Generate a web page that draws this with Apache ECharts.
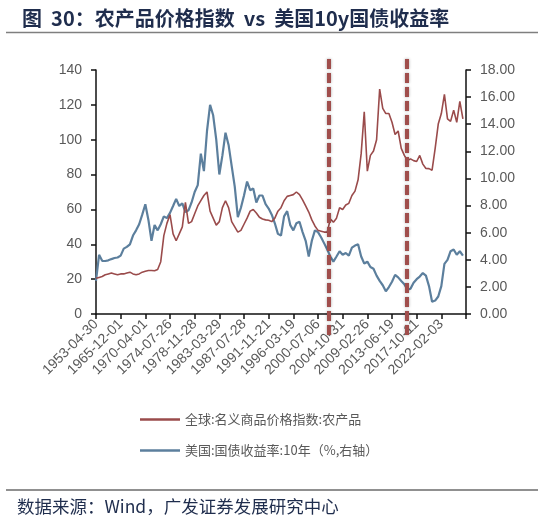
<!DOCTYPE html>
<html><head><meta charset="utf-8">
<script src="https://cdn.jsdelivr.net/npm/echarts@6/dist/echarts.min.js"></script>
<style>html,body{margin:0;padding:0;background:#fff}#c{width:544px;height:521px}</style>
</head><body><div id="c"></div>
<script>
var tickLabels = ['1953-04-30','1965-12-01','1970-04-01','1974-07-26','1978-11-28','1983-03-29','1987-07-28','1991-11-21','1996-03-19','2000-07-06','2004-10-31','2009-02-26','2013-06-19','2017-10-11','2022-02-03'];
var stepsPerLabel = 8;
var totalSlots = 121;
var agri = [20.5,21,21.5,22.5,23,23.5,23,22.5,23,23,23.5,24,23,22.5,23,24,24.5,25,25,24.8,
25.5,30,45,52,57,46,42,46,50,64,52,53,57.5,62,65,68,70,59,55,51,
53,61,65,61,53,50,47,48,51.5,55,59,60,58,55.5,54.5,54,53.8,53,55,59,
61,65,67.5,68,68.5,70,68.5,65.5,62,58.5,54,50.5,48,47.5,47,47,54.5,52.7,55,61,
60,62.5,63.5,68,70.5,77,92,116,82,91,93.5,100,129,118,115,115,110,103,105,95,
91,88,89,88,87.5,91,86,83.5,83.4,82.5,95,109,115,126,112,110.5,117,110,122,112];
var bond = [2.44,4.37,3.92,3.91,3.96,4.05,4.13,4.17,4.31,4.82,4.95,5.14,5.79,6.17,6.62,7.33,8.10,6.94,5.40,6.56,
6.17,6.62,7.20,7.07,7.46,7.97,8.49,7.97,8.16,7.52,7.65,8.23,9.00,9.51,11.83,10.54,13.50,15.43,14.66,12.86,
10.29,11.70,13.37,12.47,10.93,9.39,7.14,7.84,8.74,9.77,9.13,9.26,8.23,8.74,8.74,8.10,7.78,7.33,6.69,5.91,
5.79,7.20,7.59,6.56,6.17,6.69,6.81,6.04,5.40,4.24,5.40,6.17,6.04,5.66,5.21,4.76,4.24,3.86,4.24,4.63,
4.37,4.50,4.31,4.89,5.05,5.14,4.24,3.73,3.86,3.47,3.34,2.83,2.44,2.12,1.67,1.99,2.38,2.89,2.70,2.44,
2.19,1.80,1.86,2.31,2.57,2.76,3.02,2.83,2.06,0.90,0.99,1.29,2.06,3.70,3.99,4.63,4.76,4.37,4.63,4.31];
var markerSlots = [75.6, 100.8];
var seriesNames = ['全球:名义商品价格指数:农产品','美国:国债收益率:10年（%,右轴）'];

var cats = [];
for (var i = 0; i < totalSlots; i++) {
  cats.push(i % stepsPerLabel === 0 ? (tickLabels[i / stepsPerLabel] || '') : '');
}
var FONT = 'Liberation Sans, Noto Sans CJK SC, sans-serif';
var CJK = 'Noto Sans CJK SC, Liberation Sans, sans-serif';
var chart = echarts.init(document.getElementById('c'), null, {renderer: 'canvas'});
chart.setOption({
  animation: false,
  backgroundColor: '#fff',
  title: {
    text: '图  30：农产品价格指数  vs  美国10y国债收益率',
    left: 17, top: 3,
    textStyle: {fontFamily: CJK, fontSize: 20, fontWeight: 'bold', color: '#1F2D4D'}
  },
  legend: {
    orient: 'vertical', left: 140, top: 413, padding: 0, itemWidth: 40, itemHeight: 2.5, itemGap: 18,
    icon: 'rect',
    textStyle: {fontFamily: CJK, fontSize: 13, color: '#595959'},
    data: [
      {name: seriesNames[0], itemStyle: {color: '#9A4B4B'}},
      {name: seriesNames[1], itemStyle: {color: '#5C7F9D'}}
    ]
  },
  grid: [
    {left: 96, right: 78, top: 70, bottom: 207, containLabel: false},
    {left: 96, right: 78, top: 55, height: 280, containLabel: false}
  ],
  xAxis: [
    {type: 'category', gridIndex: 0, data: cats, boundaryGap: false,
     axisLine: {lineStyle: {color: '#111', width: 1.5}},
     axisTick: {interval: stepsPerLabel - 1, length: 5, lineStyle: {color: '#111', width: 1.5}},
     axisLabel: {interval: stepsPerLabel - 1, rotate: 45, fontFamily: FONT, fontSize: 14, color: '#595959', margin: 8}},
    {type: 'value', gridIndex: 1, min: 0, max: totalSlots - 1, show: false}
  ],
  yAxis: [
    {type: 'value', gridIndex: 0, min: 0, max: 140, interval: 20, position: 'left',
     axisLine: {show: true, lineStyle: {color: '#111', width: 1.5}},
     axisTick: {show: true, length: 5, lineStyle: {color: '#111', width: 1.5}},
     splitLine: {show: false},
     axisLabel: {fontFamily: FONT, fontSize: 14, color: '#595959', margin: 14}},
    {type: 'value', gridIndex: 0, min: 0, max: 18, interval: 2, position: 'right',
     axisLine: {show: true, lineStyle: {color: '#111', width: 1.5}},
     axisTick: {show: true, length: 5, lineStyle: {color: '#111', width: 1.5}},
     splitLine: {show: false},
     axisLabel: {fontFamily: FONT, fontSize: 14, color: '#595959', margin: 14,
       formatter: function (v) { return v.toFixed(2); }}},
    {type: 'value', gridIndex: 1, min: 0, max: 1, show: false}
  ],
  series: [
    {name: seriesNames[0], type: 'line', xAxisIndex: 0, yAxisIndex: 0, data: agri,
     symbol: 'none', lineStyle: {color: '#9A4B4B', width: 1.6}, itemStyle: {color: '#9A4B4B'}, z: 3},
    {name: seriesNames[1], type: 'line', xAxisIndex: 0, yAxisIndex: 1, data: bond,
     symbol: 'none', lineStyle: {color: '#5C7F9D', width: 2.2}, itemStyle: {color: '#5C7F9D'}, z: 2},
    {type: 'line', xAxisIndex: 1, yAxisIndex: 2, data: [[0, -1], [totalSlots - 1, -1]],
     symbol: 'none', lineStyle: {opacity: 0}, silent: true, z: 5,
     markLine: {symbol: ['none', 'none'], silent: true, label: {show: false},
       lineStyle: {color: '#A04E4C', width: 4, type: [10, 4], shadowBlur: 3, shadowColor: 'rgba(0,0,0,0.35)'},
       data: markerSlots.map(function (s) { return {xAxis: s}; })}}
  ],
  graphic: [
    {type: 'line', shape: {x1: 6, y1: 32.5, x2: 538, y2: 32.5}, style: {stroke: '#7f7f7f', lineWidth: 1.5}},
    {type: 'line', shape: {x1: 6, y1: 490, x2: 538, y2: 490}, style: {stroke: '#222', lineWidth: 1.2}},
    {type: 'text', left: 17, top: 498, style: {text: '数据来源：Wind，广发证券发展研究中心', fontFamily: CJK, fontSize: 17.5, fill: '#1F2D4D'}}
  ]
});
</script></body></html>
